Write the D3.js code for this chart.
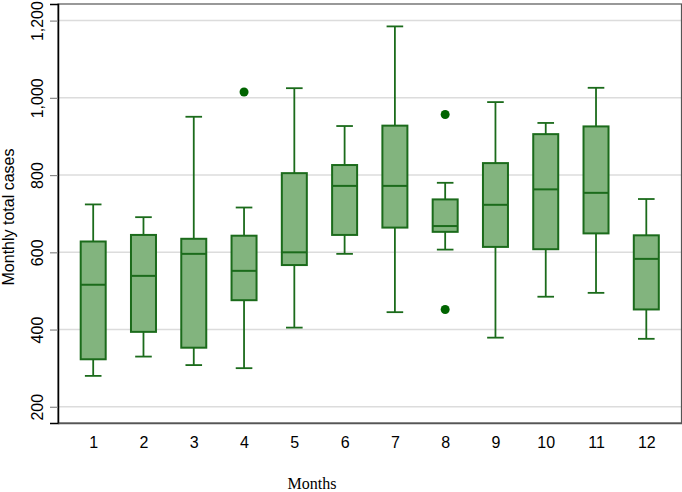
<!DOCTYPE html>
<html>
<head>
<meta charset="utf-8">
<script src="https://cdn.jsdelivr.net/npm/d3@7"></script>
<style>
  html, body { margin: 0; padding: 0; background: #fff; }
  svg { display: block; }
</style>
</head>
<body>
<svg id="chart" width="682" height="492"></svg>
<script>
const months = [1, 2, 3, 4, 5, 6, 7, 8, 9, 10, 11, 12];
const whiskerLow  = [280, 330, 308, 300, 405, 596, 445, 607, 379, 485, 495, 376];
const q1          = [323, 394, 353, 476, 567, 645, 664, 653, 614, 608, 649, 452];
const medians     = [516, 539, 596, 552, 600, 772, 772, 668, 723, 763, 754, 583];
const q3          = [628, 645, 635, 643, 805, 826, 928, 737, 831, 906, 926, 644];
const whiskerHigh = [724, 691, 951, 716, 1025, 927, 1185, 780, 989, 935, 1026, 738];
const outlierMonths = [4, 8, 8];
const outlierValues = [1015, 957, 452];
const yTicks = [200, 400, 600, 800, 1000, 1200];
const yTitle = "Monthly total cases";
const xTitle = "Months";

(function () {
const svg = d3.select("#chart");
const mLeft = 58, mRight = 681.5, mTop = 4, mBottom = 423;

const x = d3.scaleLinear().domain([0.3, 12.7]).range([mLeft, mRight]);
const y = d3.scaleLinear().domain([158, 1243]).range([mBottom, mTop]);

const fill = "#82b47e", stroke = "#1b6b1b", dotColor = "#006400";

// gridlines
svg.append("g").selectAll("line").data(yTicks).join("line")
  .attr("x1", mLeft).attr("x2", mRight)
  .attr("y1", d => y(d)).attr("y2", d => y(d))
  .attr("stroke", "#dcdcdc").attr("stroke-width", 1.5);

// frame
svg.append("rect").attr("x", mLeft).attr("y", mTop)
  .attr("width", mRight - mLeft).attr("height", mBottom - mTop)
  .attr("fill", "none").attr("stroke", "#555").attr("stroke-width", 1.2);

// y axis
const yAxis = d3.axisLeft(y).tickValues(yTicks).tickSize(8).tickFormat(d3.format(","));
const gy = svg.append("g").attr("transform", `translate(${mLeft},0)`).call(yAxis);
gy.select(".domain").attr("stroke", "#000").attr("stroke-width", 1.5);
gy.selectAll(".tick line").attr("stroke", "#888").attr("stroke-width", 1.2);
gy.selectAll(".tick text")
  .attr("font-family", "Liberation Sans, Arial, sans-serif").attr("font-size", 16).attr("fill", "#000")
  .attr("text-anchor", "middle").attr("x", null).attr("dy", null)
  .attr("transform", "translate(-15,0) rotate(-90)")
  .attr("y", 0);

// x axis
const xAxis = d3.axisBottom(x).tickValues(months).tickSize(0).tickPadding(14).tickFormat(d3.format("d"));
const gx = svg.append("g").attr("transform", `translate(0,${mBottom})`).call(xAxis);
gx.select(".domain").attr("stroke", "#555").attr("stroke-width", 1.5);
gx.selectAll(".tick text")
  .attr("font-family", "Liberation Sans, Arial, sans-serif").attr("font-size", 16).attr("fill", "#000");

// boxes
const half = 12.5, cap = 8.3;
const g = svg.append("g");
months.forEach((m, i) => {
  const cx = x(m);
  const bg = g.append("g");
  bg.append("line").attr("x1", cx).attr("x2", cx)
    .attr("y1", y(q3[i])).attr("y2", y(whiskerHigh[i]))
    .attr("stroke", stroke).attr("stroke-width", 1.8);
  bg.append("line").attr("x1", cx).attr("x2", cx)
    .attr("y1", y(q1[i])).attr("y2", y(whiskerLow[i]))
    .attr("stroke", stroke).attr("stroke-width", 1.8);
  bg.append("line").attr("x1", cx - cap).attr("x2", cx + cap)
    .attr("y1", y(whiskerHigh[i])).attr("y2", y(whiskerHigh[i]))
    .attr("stroke", stroke).attr("stroke-width", 1.8);
  bg.append("line").attr("x1", cx - cap).attr("x2", cx + cap)
    .attr("y1", y(whiskerLow[i])).attr("y2", y(whiskerLow[i]))
    .attr("stroke", stroke).attr("stroke-width", 1.8);
  bg.append("rect").attr("x", cx - half).attr("width", half * 2)
    .attr("y", y(q3[i])).attr("height", y(q1[i]) - y(q3[i]))
    .attr("fill", fill).attr("stroke", stroke).attr("stroke-width", 2);
  bg.append("line").attr("x1", cx - half).attr("x2", cx + half)
    .attr("y1", y(medians[i])).attr("y2", y(medians[i]))
    .attr("stroke", stroke).attr("stroke-width", 2);
});

// outliers
g.selectAll("circle").data(outlierValues).join("circle")
  .attr("cx", (d, i) => x(outlierMonths[i])).attr("cy", d => y(d))
  .attr("r", 4.5).attr("fill", dotColor);

// titles
svg.append("text")
  .attr("transform", `translate(14,217) rotate(-90)`)
  .attr("text-anchor", "middle")
  .attr("font-family", "Liberation Sans, Arial, sans-serif").attr("font-size", 16)
  .attr("fill", "#000").text(yTitle);

svg.append("text")
  .attr("x", 312).attr("y", 489)
  .attr("text-anchor", "middle")
  .attr("font-family", "Liberation Serif, Times New Roman, serif").attr("font-size", 16)
  .attr("fill", "#000").text(xTitle);
})();
</script>
</body>
</html>
